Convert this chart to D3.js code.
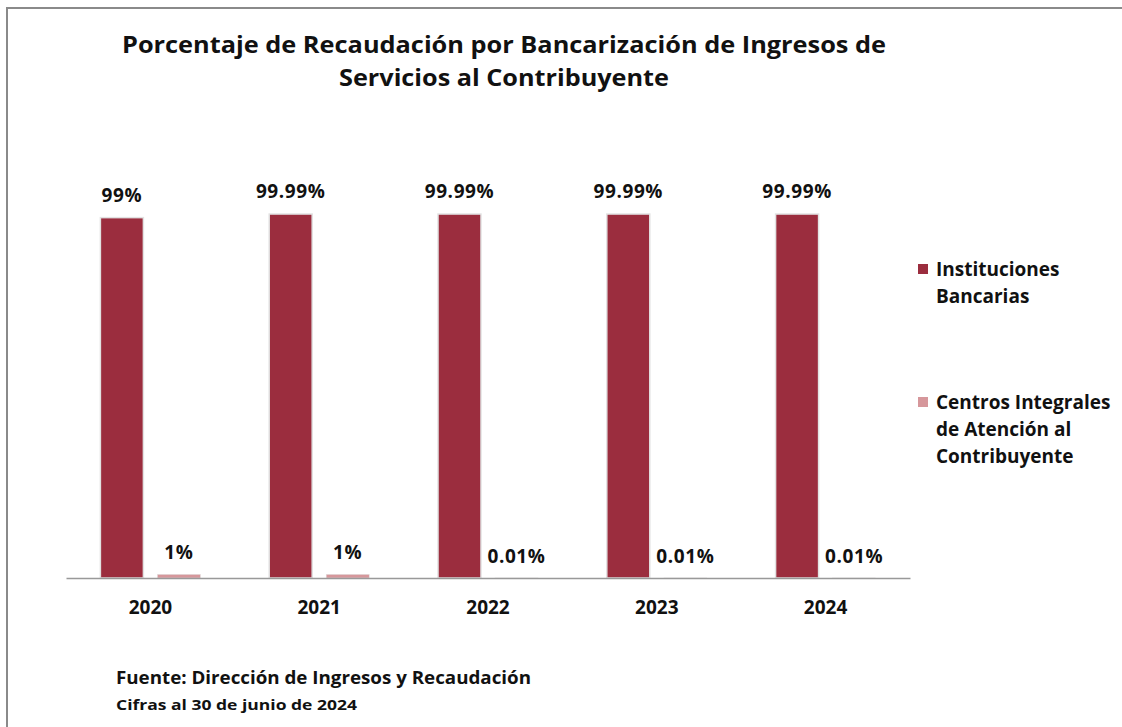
<!DOCTYPE html>
<html><head><meta charset="utf-8">
<script src="https://cdn.jsdelivr.net/npm/d3@7"></script>
<style>body{margin:0;background:#fff}svg{display:block}text{font-family:"Open Sans",Lato,sans-serif;font-weight:bold;fill:#111}</style>
</head><body><svg id="c" width="1122" height="727"></svg>
<script>
const years = ["2020","2021","2022","2023","2024"];
const seriesNames = [["Instituciones","Bancarias"],["Centros Integrales","de Atención al","Contribuyente"]];
const instituciones = [99, 99.99, 99.99, 99.99, 99.99];
const centros = [1, 1, 0.01, 0.01, 0.01];
const instLabels = ["99%","99.99%","99.99%","99.99%","99.99%"];
const centLabels = ["1%","1%","0.01%","0.01%","0.01%"];
const colors = ["#9b2d3e","#d6979b"];

const svg = d3.select("#c");
svg.append("path").attr("d","M7,727 V8 H1122").attr("fill","none").attr("stroke","#8a8a8a").attr("stroke-width",2);

svg.append("text").attr("x",504).attr("y",53).attr("text-anchor","middle").style("font-size","24px")
  .attr("textLength",764).attr("lengthAdjust","spacingAndGlyphs")
  .text("Porcentaje de Recaudación por Bancarización de Ingresos de");
svg.append("text").attr("x",504).attr("y",86).attr("text-anchor","middle").style("font-size","24px")
  .attr("textLength",330).attr("lengthAdjust","spacingAndGlyphs")
  .text("Servicios al Contribuyente");

const x = d3.scaleBand().domain(years).range([66,910]);
const y = d3.scaleLinear().domain([0,100]).range([578,214]);
const xs = d3.scaleBand().domain([0,1]).range([x.bandwidth()/2-50, x.bandwidth()/2+50]).paddingInner(0.246);

const data = [instituciones, centros];
const labels = [instLabels, centLabels];
data.forEach((vals,si)=>{
  const g = svg.append("g");
  g.selectAll("rect").data(vals).join("rect")
    .attr("x",(d,i)=>x(years[i])+xs(si))
    .attr("width",xs.bandwidth())
    .attr("y",d=>y(d))
    .attr("height",d=>y(0)-y(d))
    .attr("fill",colors[si])
    .attr("stroke","#e2e2e2").attr("stroke-width",si===0?1.5:0.5);
  g.selectAll("text").data(vals).join("text")
    .attr("x",(d,i)=>x(years[i])+xs(si)+xs.bandwidth()/2)
    .attr("y",d=> si===0 ? y(d)-16 : y(d)-15)
    .attr("text-anchor","middle").style("font-size","19px")
    .style("letter-spacing","0.6px")
    .text((d,i)=>labels[si][i]);
});

const ax = svg.append("g").attr("transform","translate(0,578)")
  .call(d3.axisBottom(x).tickSize(0).tickPadding(20));
ax.select(".domain").attr("stroke","#999").attr("stroke-width",1.5);
ax.selectAll("text").style("font-size","19px").style("font-family","'Open Sans',Lato,sans-serif").attr("fill","#111").attr("dy","0.85em");

const legY = [264, 397];
seriesNames.forEach((lines,si)=>{
  svg.append("rect").attr("x",918).attr("y",legY[si]).attr("width",10).attr("height",10).attr("fill",colors[si]);
  lines.forEach((t,li)=>{
    svg.append("text").attr("x",936).attr("y",legY[si]+12+li*27).style("font-size","19px").text(t);
  });
});

svg.append("text").attr("x",116).attr("y",684).style("font-size","17px")
  .attr("textLength",415).attr("lengthAdjust","spacingAndGlyphs").text("Fuente: Dirección de Ingresos y Recaudación");
svg.append("text").attr("x",116).attr("y",710).style("font-size","15px")
  .attr("textLength",241).attr("lengthAdjust","spacingAndGlyphs").text("Cifras al 30 de junio de 2024");
</script></body></html>
